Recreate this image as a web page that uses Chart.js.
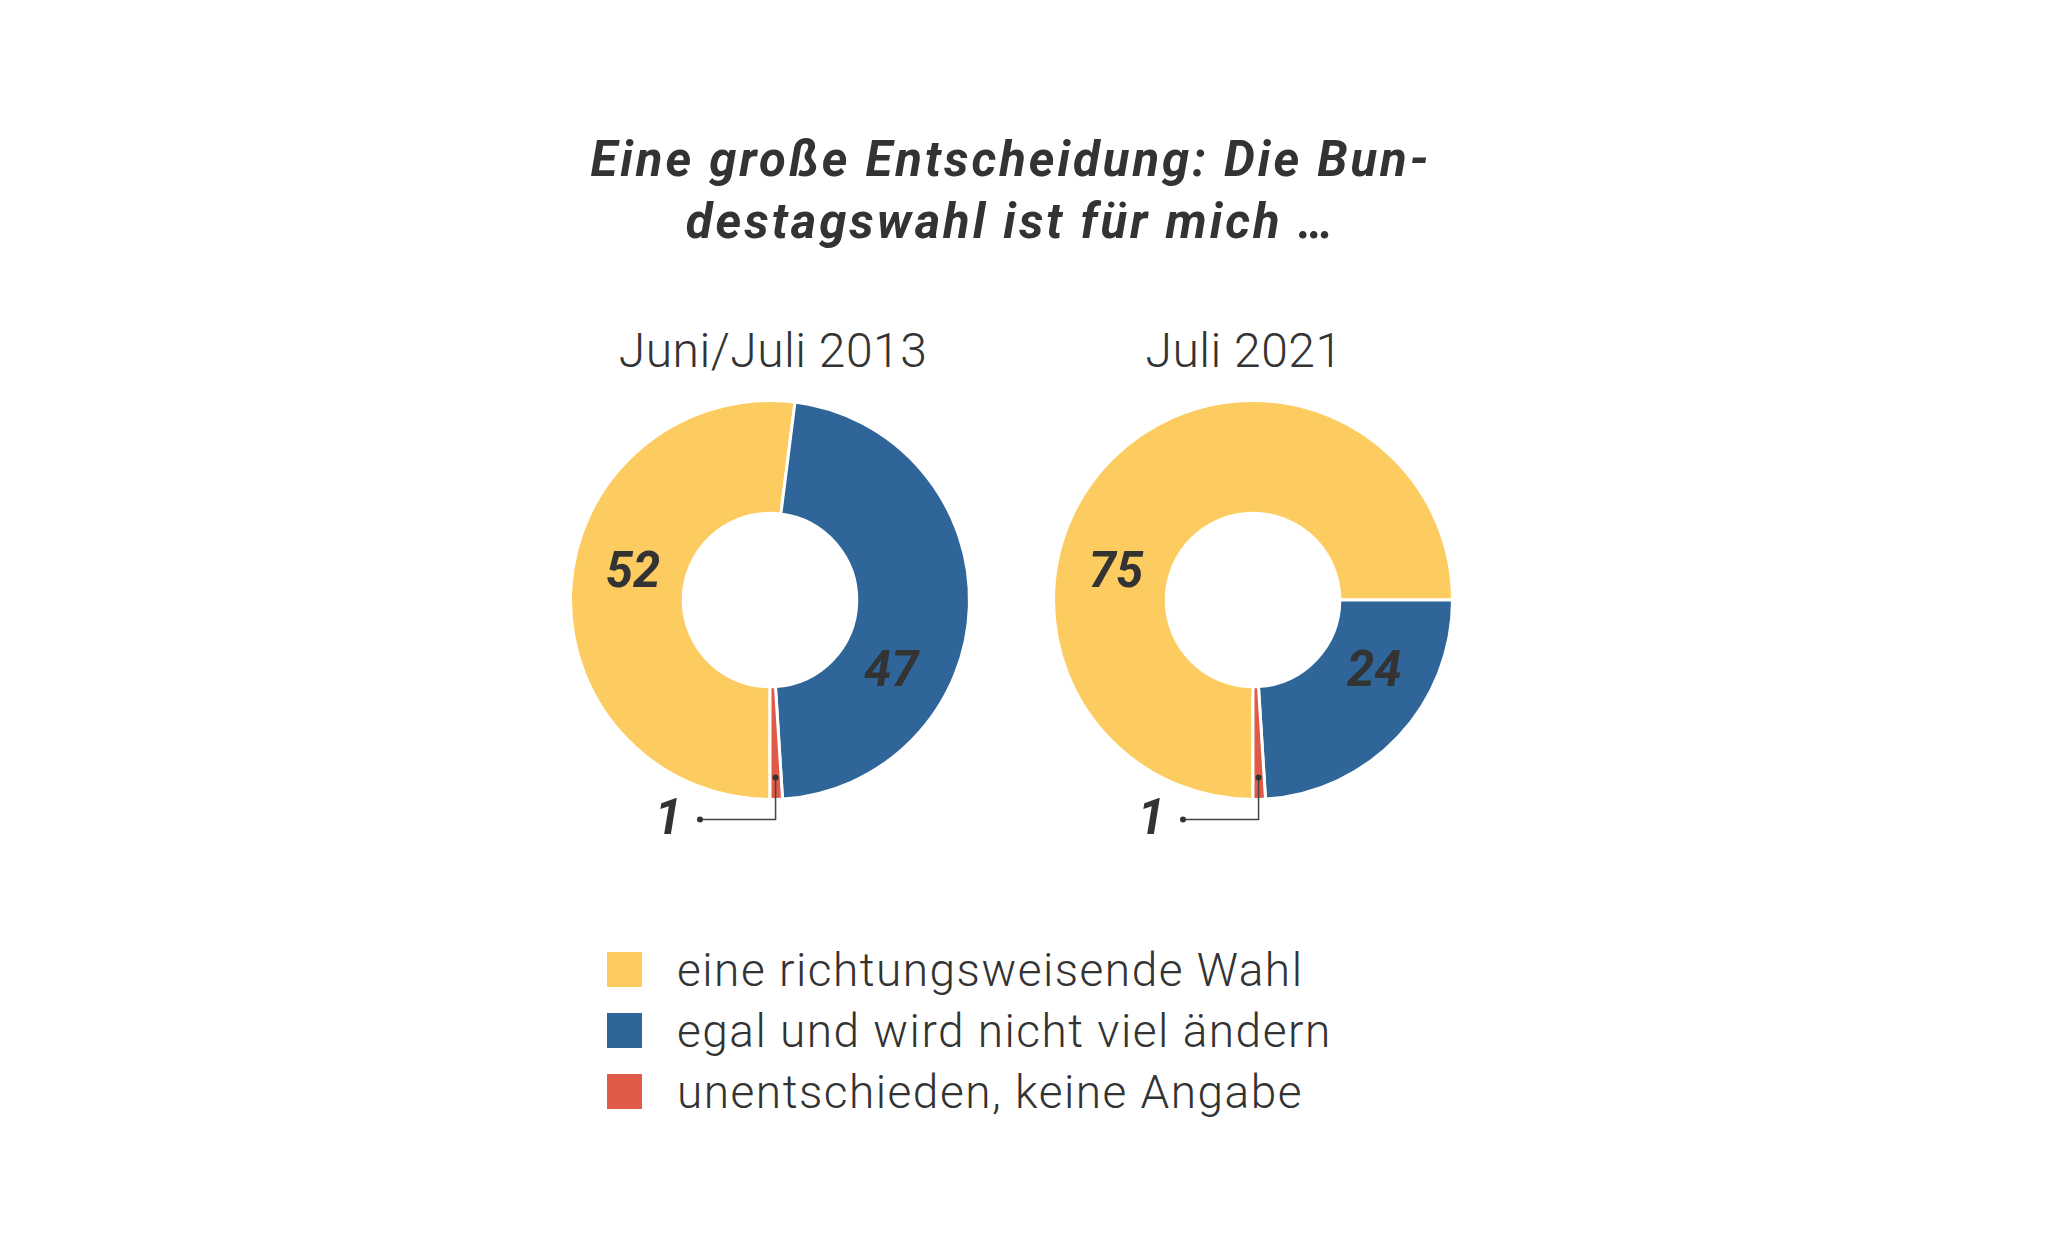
<!DOCTYPE html>
<html lang="de">
<head>
<meta charset="utf-8">
<title>Bundestagswahl</title>
<script src="https://cdn.jsdelivr.net/npm/chart.js@4.4.0/dist/chart.umd.min.js"></script>
<style>
    html, body { margin: 0; padding: 0; background: #fff; }
    body { width: 2048px; height: 1255px; position: relative; overflow: hidden; font-family: Roboto, sans-serif; color: #333; }
    #title { position: absolute; left: 0; width: 2022px; top: 129px; text-align: center; font-size: 49px; font-weight: 700; font-style: italic; line-height: 62px; letter-spacing: 3px; }
    .sub { position: absolute; top: 321px; width: 400px; text-align: center; font-size: 48px; font-weight: 300; line-height: 60px; letter-spacing: 0.5px; }
    .donut { position: absolute; width: 500px; height: 500px; }
    #legend { position: absolute; left: 607px; top: 939px; }
    .row { display: flex; align-items: center; height: 61px; font-size: 46px; font-weight: 300; letter-spacing: 1.5px; }
    .box { width: 35px; height: 35px; margin-right: 35px; }
</style>
</head>
<body>
<div id="title">Eine große Entscheidung: Die Bun-<br>destagswahl ist für mich …</div>
<div class="sub" id="sub0" style="left:573px"></div>
<div class="sub" id="sub1" style="left:1044px"></div>
<canvas id="chart2013" class="donut" width="500" height="500" style="left:520px; top:350px"></canvas>
<canvas id="chart2021" class="donut" width="500" height="500" style="left:1003px; top:350px"></canvas>
<div id="legend"></div>
<script>
const categories = ['eine richtungsweisende Wahl', 'egal und wird nicht viel ändern', 'unentschieden, keine Angabe'];
const periods = ['Juni/Juli 2013', 'Juli 2021'];
const values2013 = [52, 47, 1];
const values2021 = [75, 24, 1];
const colors = ['#FDCC60', '#2F6599', '#E05A47'];

// label angles in degrees clockwise from 12 o'clock; null = label with leader line
const labelAngles = [282, 120, null];

const sliceLabels = {
    id: 'sliceLabels',
    afterDatasetsDraw(chart) {
        const ctx = chart.ctx;
        const meta = chart.getDatasetMeta(0);
        const values = chart.data.datasets[0].data;
        ctx.save();
        ctx.fillStyle = '#333';
        ctx.strokeStyle = '#444';
        ctx.font = 'italic 700 49px Roboto';
        ctx.textBaseline = 'middle';
        meta.data.forEach((arc, i) => {
            const p = arc.getProps(['x', 'y', 'startAngle', 'endAngle', 'innerRadius', 'outerRadius'], true);
            const txt = String(values[i]);
            if (labelAngles[i] !== null) {
                const a = (labelAngles[i] - 90) * Math.PI / 180;
                const r = (p.innerRadius + p.outerRadius) / 2 - 3;
                ctx.textAlign = 'center';
                ctx.fillText(txt, p.x + r * Math.cos(a), p.y + r * Math.sin(a) + 4);
            } else {
                const mid = (p.startAngle + p.endAngle) / 2;
                const r = p.outerRadius - 22;
                const sx = p.x + r * Math.cos(mid);
                const sy = p.y + r * Math.sin(mid);
                const ly = p.y + p.outerRadius + 20;
                const ex = p.x - 70;
                ctx.lineWidth = 1.5;
                ctx.beginPath();
                ctx.moveTo(sx, sy);
                ctx.lineTo(sx, ly);
                ctx.lineTo(ex, ly);
                ctx.stroke();
                [[sx, sy], [ex, ly]].forEach(([x, y]) => {
                    ctx.beginPath();
                    ctx.arc(x, y, 3, 0, Math.PI * 2);
                    ctx.fillStyle = '#333';
                    ctx.fill();
                });
                ctx.textAlign = 'right';
                ctx.fillText(txt, ex - 18, ly + 2);
            }
        });
        ctx.restore();
    }
};

function makeDonut(id, values) {
    new Chart(document.getElementById(id).getContext('2d'), {
        type: 'doughnut',
        data: {
            labels: categories,
            datasets: [{
                data: values,
                backgroundColor: colors,
                borderColor: '#fff',
                borderWidth: 3
            }]
        },
        options: {
            responsive: false,
            animation: false,
            rotation: 180,
            cutout: '43.5%',
            layout: { padding: 49 },
            plugins: {
                legend: { display: false },
                tooltip: { enabled: false }
            }
        },
        plugins: [sliceLabels]
    });
}

document.getElementById('sub0').textContent = periods[0];
document.getElementById('sub1').textContent = periods[1];
makeDonut('chart2013', values2013);
makeDonut('chart2021', values2021);

const legend = document.getElementById('legend');
categories.forEach((c, i) => {
    const row = document.createElement('div');
    row.className = 'row';
    row.innerHTML = '<div class="box" style="background:' + colors[i] + '"></div><span>' + c + '</span>';
    legend.appendChild(row);
});
</script>
</body>
</html>
